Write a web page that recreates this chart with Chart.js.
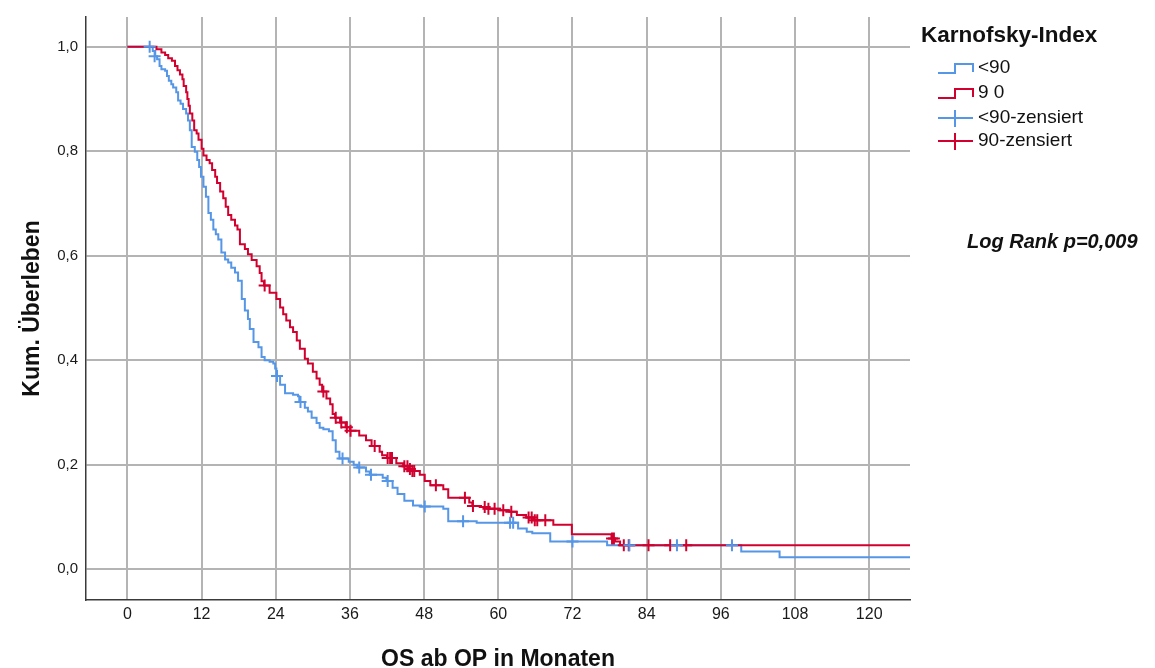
<!DOCTYPE html>
<html>
<head>
<meta charset="utf-8">
<script src="https://cdn.jsdelivr.net/npm/chart.js@4.4.1/dist/chart.umd.min.js"></script>
<style>
  body { margin: 0; background: #fff; }
  #wrap { width: 1155px; height: 668px; }
</style>
</head>
<body>
<div id="wrap"><canvas id="kmChart"></canvas></div>
<script>
const xTicks = [0, 12, 24, 36, 48, 60, 72, 84, 96, 108, 120];
const yTicks = [0, 0.2, 0.4, 0.6, 0.8, 1.0];

// <90: [months, survival after step]
const lowSteps = [
  [0, 1.0], [4.1, 0.992], [4.5, 0.982], [4.8, 0.976], [5.2, 0.963], [5.5, 0.957], [6.1, 0.954],
  [6.4, 0.944], [6.7, 0.935], [7.1, 0.928], [7.4, 0.922], [7.9, 0.913], [8.2, 0.897], [8.6, 0.891],
  [9.0, 0.881], [9.5, 0.872], [9.8, 0.859], [10.1, 0.840], [10.4, 0.808], [10.9, 0.799], [11.3, 0.783],
  [11.6, 0.770], [11.9, 0.751], [12.3, 0.732], [12.7, 0.713], [13.1, 0.682], [13.5, 0.669], [13.9, 0.650],
  [14.3, 0.641], [14.7, 0.631], [15.2, 0.606], [15.8, 0.593], [16.3, 0.587], [16.8, 0.577], [17.4, 0.568],
  [17.9, 0.552], [18.5, 0.517], [19.0, 0.495], [19.5, 0.479], [19.8, 0.460], [20.4, 0.435], [21.2, 0.425],
  [21.7, 0.406], [22.2, 0.400], [23.0, 0.397], [23.6, 0.394], [23.9, 0.384], [24.1, 0.370], [24.7, 0.353],
  [25.5, 0.337], [26.8, 0.334], [27.6, 0.331], [27.8, 0.320], [28.7, 0.309], [29.2, 0.302], [29.8, 0.290],
  [30.6, 0.280], [31.1, 0.271], [31.7, 0.268], [32.6, 0.264], [33.2, 0.247], [33.7, 0.225], [34.3, 0.212],
  [35.8, 0.206], [36.6, 0.200], [37.2, 0.195], [38.6, 0.187], [39.2, 0.181], [41.3, 0.175], [41.9, 0.169],
  [42.9, 0.156], [43.7, 0.144], [44.8, 0.131], [46.2, 0.122], [47.5, 0.120], [51.1, 0.116], [51.9, 0.092],
  [56.5, 0.089], [63.2, 0.078], [64.6, 0.072], [65.5, 0.069], [68.4, 0.053], [77.6, 0.046], [99.3, 0.034],
  [105.5, 0.023], [130, 0.023]
];
const lowCensored = [
  [3.6, 1.0], [4.4, 0.982], [24.2, 0.370], [28.0, 0.320], [34.8, 0.212], [37.5, 0.195], [39.4, 0.181],
  [42.1, 0.169], [48.1, 0.120], [54.3, 0.092], [61.9, 0.089], [62.4, 0.089], [72.0, 0.053], [81.2, 0.046],
  [88.9, 0.046], [97.8, 0.046]
];

// 90: [months, survival after step]
const highSteps = [
  [0, 1.0], [4.7, 0.995], [5.5, 0.989], [6.1, 0.984], [6.6, 0.978], [7.2, 0.973], [7.7, 0.963],
  [8.1, 0.955], [8.5, 0.947], [8.9, 0.938], [9.1, 0.925], [9.5, 0.913], [9.7, 0.900], [9.9, 0.887],
  [10.1, 0.872], [10.5, 0.859], [10.8, 0.840], [11.2, 0.834], [11.5, 0.822], [12.0, 0.805], [12.3, 0.792],
  [12.8, 0.783], [13.3, 0.777], [13.7, 0.764], [14.2, 0.751], [14.5, 0.739], [15.0, 0.723], [15.5, 0.710],
  [15.9, 0.694], [16.3, 0.678], [16.8, 0.669], [17.4, 0.658], [17.8, 0.650], [18.2, 0.622], [19.0, 0.613],
  [19.5, 0.603], [20.1, 0.592], [20.9, 0.580], [21.4, 0.567], [21.7, 0.551], [22.1, 0.543], [23.0, 0.529],
  [24.1, 0.517], [24.7, 0.501], [25.2, 0.488], [25.7, 0.476], [26.3, 0.463], [26.8, 0.454], [27.4, 0.438],
  [27.9, 0.422], [28.7, 0.403], [29.2, 0.394], [30.0, 0.378], [30.6, 0.365], [31.1, 0.353], [31.5, 0.340],
  [32.2, 0.327], [32.8, 0.316], [33.2, 0.297], [33.6, 0.290], [34.4, 0.281], [35.3, 0.272], [36.0, 0.265],
  [37.5, 0.256], [38.6, 0.247], [39.5, 0.236], [40.8, 0.225], [41.2, 0.218], [42.0, 0.213], [43.5, 0.203],
  [44.6, 0.197], [45.5, 0.192], [46.0, 0.188], [47.3, 0.181], [48.1, 0.169], [49.0, 0.161], [51.1, 0.153],
  [51.9, 0.137], [55.3, 0.128], [55.8, 0.121], [57.2, 0.119], [58.2, 0.116], [60.3, 0.113], [61.8, 0.110],
  [63.0, 0.104], [64.5, 0.099], [65.7, 0.094], [68.9, 0.085], [71.9, 0.067], [78.3, 0.059], [78.9, 0.053],
  [79.7, 0.046], [130, 0.046]
];
const highCensored = [
  [22.2, 0.543], [31.7, 0.340], [33.7, 0.290], [34.6, 0.281], [35.5, 0.272], [36.1, 0.265], [40.0, 0.236],
  [42.1, 0.213], [42.5, 0.213], [42.8, 0.213], [44.8, 0.197], [45.3, 0.197], [45.7, 0.192], [46.1, 0.188],
  [46.4, 0.188], [49.9, 0.161], [54.6, 0.137], [55.9, 0.121], [57.8, 0.119], [58.4, 0.116], [59.4, 0.116],
  [60.8, 0.113], [62.1, 0.110], [64.9, 0.099], [65.4, 0.099], [65.9, 0.094], [66.3, 0.094], [67.6, 0.094],
  [78.4, 0.059], [78.7, 0.059], [80.3, 0.046], [81.1, 0.046], [84.3, 0.046], [87.8, 0.046], [90.4, 0.046]
];

const legendTitle = 'Karnofsky-Index';
const legendLabels = ['<90', '9 0', '<90-zensiert', '90-zensiert'];
const logRankText = 'Log Rank p=0,009';

const BLUE = '#5596e6';
const RED = '#d2002e';
const FONT = "'Liberation Sans', Arial, sans-serif";

const toXY = arr => arr.map(([x, y]) => ({ x: x, y: y }));

// legend + log rank annotation, drawn on the canvas
const kmLegend = {
  id: 'kmLegend',
  afterDraw(chart) {
    const ctx = chart.ctx;
    ctx.save();
    ctx.fillStyle = '#111';
    ctx.textBaseline = 'middle';
    ctx.textAlign = 'left';
    ctx.font = 'bold 22.5px ' + FONT;
    ctx.fillText(legendTitle, 921, 36);

    ctx.font = '19px ' + FONT;
    const rows = [68, 93, 118, 141];
    legendLabels.forEach((t, i) => ctx.fillText(t, 978, rows[i]));

    ctx.lineWidth = 2;
    [[BLUE, rows[0]], [RED, rows[1]]].forEach(([c, y]) => {
      ctx.strokeStyle = c;
      ctx.beginPath();
      ctx.moveTo(938, y + 5);
      ctx.lineTo(955, y + 5);
      ctx.lineTo(955, y - 4);
      ctx.lineTo(973, y - 4);
      ctx.lineTo(973, y + 4);
      ctx.stroke();
    });
    [[BLUE, rows[2]], [RED, rows[3]]].forEach(([c, y]) => {
      ctx.strokeStyle = c;
      ctx.beginPath();
      ctx.moveTo(938, y);
      ctx.lineTo(973, y);
      ctx.moveTo(955, y - 8);
      ctx.lineTo(955, y + 9);
      ctx.stroke();
    });

    ctx.font = 'italic bold 20px ' + FONT;
    ctx.fillText(logRankText, 967, 242);
    ctx.restore();
  }
};

new Chart(document.getElementById('kmChart'), {
  type: 'line',
  data: {
    datasets: [
      {
        label: '<90-zensiert',
        data: toXY(lowCensored),
        showLine: false,
        pointStyle: 'cross',
        pointRadius: 6,
        pointBorderWidth: 2,
        pointBorderColor: BLUE,
        order: 0
      },
      {
        label: '90-zensiert',
        data: toXY(highCensored),
        showLine: false,
        pointStyle: 'cross',
        pointRadius: 6,
        pointBorderWidth: 2,
        pointBorderColor: RED,
        order: 1
      },
      {
        label: '9 0',
        data: toXY(highSteps),
        stepped: true,
        borderColor: RED,
        borderWidth: 2,
        pointRadius: 0,
        order: 2
      },
      {
        label: '<90',
        data: toXY(lowSteps),
        stepped: true,
        borderColor: BLUE,
        borderWidth: 2,
        pointRadius: 0,
        order: 3
      }
    ]
  },
  options: {
    responsive: true,
    maintainAspectRatio: false,
    animation: false,
    layout: { padding: { left: 0, right: 245, top: 12, bottom: 0 } },
    plugins: {
      legend: { display: false },
      tooltip: { enabled: false }
    },
    scales: {
      x: {
        type: 'linear',
        min: -6.7,
        max: 126.6,
        afterBuildTicks: s => { s.ticks = xTicks.map(v => ({ value: v })); },
        afterFit: s => { s.height = 68; },
        grid: { color: '#b4b4b4', lineWidth: 2, drawTicks: false },
        border: { display: true, color: '#3a3a3a', width: 1.5 },
        ticks: {
          padding: 5,
          color: '#1a1a1a',
          maxRotation: 0,
          autoSkip: false,
          font: { family: FONT, size: 16 }
        },
        title: {
          display: true,
          text: 'OS ab OP in Monaten',
          color: '#111',
          font: { family: FONT, size: 23, weight: 'bold' },
          padding: { top: 0, bottom: -5 }
        }
      },
      y: {
        type: 'linear',
        min: -0.0588,
        max: 1.0569,
        afterBuildTicks: s => { s.ticks = yTicks.map(v => ({ value: v })); },
        afterFit: s => { s.width = 86; },
        grid: { color: '#b4b4b4', lineWidth: 2, drawTicks: false },
        border: { display: true, color: '#3a3a3a', width: 1.5 },
        ticks: {
          padding: 8,
          color: '#1a1a1a',
          font: { family: FONT, size: 15 },
          callback: v => v.toFixed(1).replace('.', ',')
        },
        title: {
          display: true,
          text: 'Kum. Überleben',
          color: '#111',
          font: { family: FONT, size: 23, weight: 'bold' },
          padding: { top: 19, bottom: 0 }
        }
      }
    }
  },
  plugins: [kmLegend]
});
</script>
</body>
</html>
